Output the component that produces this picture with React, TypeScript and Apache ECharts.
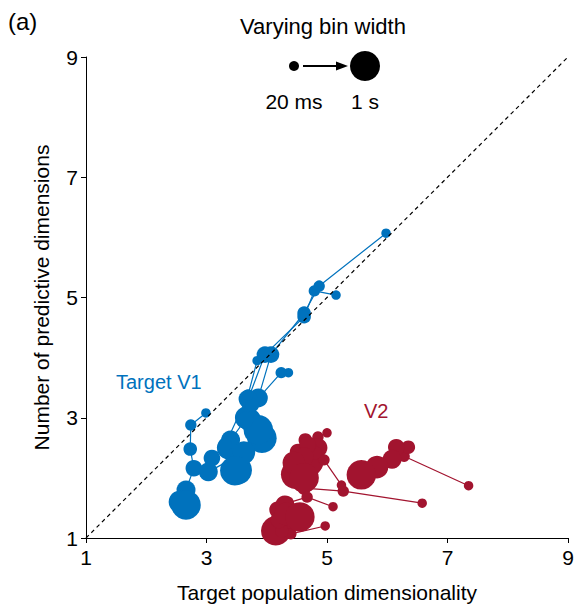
import React, { useEffect, useRef } from "react";
import * as echarts from "echarts";

// Bin widths (ms) for each point of a trajectory, from 20 ms to 1 s
const binWidthsMs = [20, 50, 100, 200, 300, 500, 1000];

const xTicks = [1, 3, 5, 7, 9];
const yTicks = [1, 3, 5, 7, 9];

// Target V1 trajectories: [target population dimensionality, number of predictive dimensions]
const v1A = [[5.98, 6.07], [4.87, 5.19], [4.62, 4.74], [4.07, 4.05], [3.86, 3.33], [3.72, 2.96], [3.92, 2.66]];
const v1B = [[5.15, 5.04], [4.79, 5.11], [4.62, 4.68], [3.97, 4.05], [3.69, 3.31], [3.66, 3.0], [3.86, 2.8]];
const v1C = [[4.36, 3.75], [4.24, 3.75], [3.76, 3.21], [3.64, 2.96], [3.4, 2.63], [3.36, 2.5], [3.51, 2.13]];
const v1D = [[2.99, 3.08], [2.74, 2.88], [2.73, 2.48], [2.79, 2.16], [2.66, 1.8], [2.56, 1.6], [2.66, 1.55]];
const v1E = [[3.84, 3.95], [3.69, 3.38], [3.31, 2.55], [3.09, 2.33], [3.03, 2.1], [3.62, 2.42], [3.47, 2.12]];

// Target V2 trajectories
const v2A = [[7.35, 1.87], [6.28, 2.36], [6.35, 2.51], [6.15, 2.51], [6.08, 2.31], [5.83, 2.18], [5.57, 2.05]];
const v2B = [[6.58, 1.58], [5.27, 1.78], [4.62, 1.83], [4.57, 2.1], [4.75, 2.2], [4.55, 2.3], [4.6, 2.08]];
const v2C = [[5.0, 2.75], [4.85, 2.68], [4.64, 2.63], [4.52, 2.43], [4.85, 2.5], [4.75, 2.25], [4.48, 2.06]];
const v2D = [[5.24, 1.88], [4.95, 2.3], [4.8, 2.42], [4.68, 2.55], [4.62, 2.35], [4.45, 2.25], [4.62, 2.0]];
const v2E = [[5.1, 1.52], [4.67, 1.68], [4.34, 1.58], [4.18, 1.47], [4.5, 1.42], [4.4, 1.3], [4.15, 1.12]];
const v2F = [[4.97, 1.2], [4.4, 1.07], [4.25, 1.12], [4.2, 1.3], [4.3, 1.55], [4.32, 1.4], [4.55, 1.35]];

const v1Trajectories = [v1A, v1B, v1C, v1D, v1E];
const v2Trajectories = [v2A, v2B, v2C, v2D, v2E, v2F];

const identityLine = [[1, 1], [9, 9]];

const BLUE = "#0072BD";
const RED = "#A2142F";
const FONT = "Liberation Sans, Arial, sans-serif";

function sizeFor(bw: number) {
  const a = Math.sqrt(binWidthsMs[0]);
  const b = Math.sqrt(binWidthsMs[binWidthsMs.length - 1]);
  return 9.5 + ((Math.sqrt(bw) - a) / (b - a)) * 20;
}

function trajSeries(data: number[][], color: string) {
  return {
    type: "line",
    data,
    symbol: "circle",
    showAllSymbol: true,
    symbolSize: (_v: any, p: any) => sizeFor(binWidthsMs[p.dataIndex]),
    itemStyle: { color, borderWidth: 0, opacity: 1 },
    lineStyle: { color, width: 1.2 },
    silent: true,
    z: 3,
  };
}

export default function App() {
  const ref = useRef<HTMLDivElement>(null);
  useEffect(() => {
    if (!ref.current) return;
    const chart = echarts.init(ref.current, undefined, { renderer: "svg" });
    const axisCommon = {
      type: "value",
      min: 1,
      max: 9,
      interval: 2,
      axisLine: { show: true, lineStyle: { color: "#000", width: 1 } },
      axisTick: { show: true, inside: false, length: 5, lineStyle: { color: "#000", width: 1 } },
      splitLine: { show: false },
      nameLocation: "middle",
      nameTextStyle: { color: "#000", fontSize: 21, fontFamily: FONT },
    };
    chart.setOption({
      animation: false,
      grid: { left: 86, right: 9, top: 57, bottom: 74, containLabel: false },
      xAxis: {
        ...axisCommon,
        name: "Target population dimensionality",
        nameGap: 44,
        axisLabel: {
          color: "#000",
          fontSize: 21,
          fontFamily: FONT,
          margin: 9,
          formatter: (v: number) => (xTicks.includes(v) ? String(v) : ""),
        },
      },
      yAxis: {
        ...axisCommon,
        name: "Number of predictive dimensions",
        nameGap: 34,
        axisLabel: {
          color: "#000",
          fontSize: 21,
          fontFamily: FONT,
          margin: 8,
          formatter: (v: number) => (yTicks.includes(v) ? String(v) : ""),
        },
      },
      series: [
        ...v1Trajectories.map((d) => trajSeries(d, BLUE)),
        ...v2Trajectories.map((d) => trajSeries(d, RED)),
        {
          type: "line",
          data: identityLine,
          symbol: "none",
          lineStyle: { color: "#000", width: 1.2, type: [4, 3.5] },
          silent: true,
          z: 5,
        },
      ],
      graphic: [
        { type: "text", style: { text: "(a)", x: 8, y: 21, fontSize: 24, fontFamily: FONT, fill: "#000", textAlign: "left", align: "left", textVerticalAlign: "middle", verticalAlign: "middle" } },
        { type: "text", style: { text: "Varying bin width", x: 323, y: 26, fontSize: 22, fontFamily: FONT, fill: "#000", textAlign: "center", align: "center", textVerticalAlign: "middle", verticalAlign: "middle" } },
        { type: "circle", shape: { cx: 294, cy: 66, r: 5 }, style: { fill: "#000" } },
        { type: "line", shape: { x1: 303, y1: 66, x2: 338, y2: 66 }, style: { stroke: "#000", lineWidth: 2 } },
        { type: "polygon", shape: { points: [[336, 61.5], [348, 66], [336, 70.5]] }, style: { fill: "#000" } },
        { type: "circle", shape: { cx: 365, cy: 66, r: 15 }, style: { fill: "#000" } },
        { type: "text", style: { text: "20 ms", x: 294, y: 101, fontSize: 21, fontFamily: FONT, fill: "#000", textAlign: "center", align: "center", textVerticalAlign: "middle", verticalAlign: "middle" } },
        { type: "text", style: { text: "1 s", x: 365, y: 101, fontSize: 21, fontFamily: FONT, fill: "#000", textAlign: "center", align: "center", textVerticalAlign: "middle", verticalAlign: "middle" } },
        { type: "text", style: { text: "Target V1", x: 116, y: 382, fontSize: 20, fontFamily: FONT, fill: BLUE, textAlign: "left", align: "left", textVerticalAlign: "middle", verticalAlign: "middle" } },
        { type: "text", style: { text: "V2", x: 364, y: 411, fontSize: 20, fontFamily: FONT, fill: RED, textAlign: "left", align: "left", textVerticalAlign: "middle", verticalAlign: "middle" } },
      ],
    });
    return () => chart.dispose();
  }, []);
  return (
    <div
      ref={ref}
      style={{ position: "absolute", left: 0, top: 0, width: 577, height: 612, background: "#fff" }}
    />
  );
}
